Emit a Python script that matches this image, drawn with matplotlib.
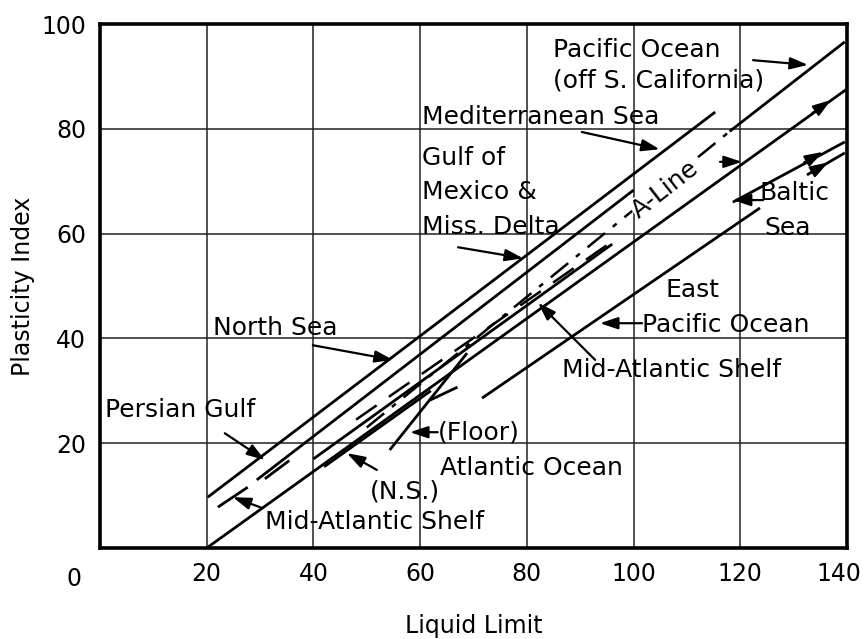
import matplotlib.pyplot as plt
import matplotlib.transforms as mtransforms
import numpy as np

plt.rcParams['font.family'] = ['DejaVu Sans']

# lines as (LL start, PI start, LL end, PI end)
solid_lines = [
    (20.2, 9.7, 115.3, 83.2),    # Mediterranean / top of bundle
    (29.4, 13.0, 100.0, 68.3),   # Gulf of Mexico
    (118.0, 79.5, 139.6, 96.6),  # Pacific Ocean (off S. California)
    (20.0, 0.0, 140.0, 87.6),    # A-line (Casagrande)
    (71.6, 28.6, 123.7, 64.9),   # East Pacific Ocean
    (118.6, 66.0, 139.6, 77.5),  # Baltic Sea 1
    (132.5, 71.2, 139.6, 75.4),  # Baltic Sea 2
    (40.0, 17.0, 96.0, 58.0),    # Mid-Atlantic Shelf
    (42.0, 15.5, 62.0, 30.0),    # Mid-Atlantic Shelf (N.S.)
    (22.1, 7.8, 27.7, 11.6),     # Mid-Atlantic Shelf (short)
    (30.9, 13.2, 35.5, 16.7),
    (54.3, 18.7, 68.8, 37.2),    # Atlantic Ocean (Floor)
    (61.8, 28.2, 67.0, 30.7),
]
dashdot_lines = [
    (50.0, 23.0, 118.0, 79.5),
]
dashed_lines = [
    (48.0, 24.5, 96.0, 58.5),
]

labels = ['Pacific Ocean', '(off S. California)', 'Mediterranean Sea', 'Gulf of',
          'Mexico &', 'Miss. Delta', 'Baltic', 'Sea', 'East', 'Pacific Ocean',
          'Mid-Atlantic Shelf', 'North Sea', 'Persian Gulf', '(Floor)',
          'Atlantic Ocean', '(N.S.)', 'Mid-Atlantic Shelf']
label_x = [84.9, 84.9, 60.3, 60.3, 60.3, 60.3, 123.7, 124.6, 105.9, 101.6,
           86.6, 21.2, 0.9, 63.3, 63.7, 50.6, 30.9]
label_y = [95.0, 89.3, 82.3, 74.4, 67.9, 61.3, 67.7, 61.1, 49.2, 42.6,
           34.0, 42.0, 26.3, 22.1, 15.3, 10.7, 5.0]

# arrows (tail LL, tail PI, head LL, head PI)
arrows = [
    (122.4, 93.1, 132.7, 92.2),
    (90.3, 79.4, 104.9, 76.1),
    (67.1, 57.4, 79.3, 55.3),
    (39.9, 38.7, 54.9, 35.9),
    (23.4, 21.9, 30.9, 16.8),
    (30.5, 7.6, 24.9, 9.7),
    (51.9, 14.9, 46.3, 18.1),
    (63.3, 22.1, 58.1, 22.1),
    (92.8, 35.9, 82.1, 46.8),
    (101.6, 42.9, 93.7, 42.9),
    (124.3, 66.4, 118.6, 66.4),
    (116.2, 73.7, 120.3, 73.7),
]
# small direction heads along lines at right edge
heads = [
    (133.5, 83.0, 137.0, 85.5),
    (132.0, 73.6, 135.5, 75.6),
    (133.5, 71.8, 136.5, 73.6),
]

xticks = [20, 40, 60, 80, 100, 120, 140]
yticks = [20, 40, 60, 80, 100]

fig = plt.figure(figsize=(8.67, 6.39), dpi=100)
ax = fig.add_axes([0.1153, 0.1424, 0.8616, 0.82])

for x0, y0, x1, y1 in solid_lines:
    ax.plot([x0, x1], [y0, y1], color='black', linewidth=2.0, solid_capstyle='butt')
for x0, y0, x1, y1 in dashdot_lines:
    ax.plot([x0, x1], [y0, y1], color='black', linewidth=1.8,
            dashes=(9, 4, 2, 4))
for x0, y0, x1, y1 in dashed_lines:
    ax.plot([x0, x1], [y0, y1], color='black', linewidth=1.8, dashes=(10, 6))

for t, x, y in zip(labels, label_x, label_y):
    ax.text(x, y, t, fontsize=18, ha='left', va='center')

ax.text(106.0, 68.5, 'A-Line', fontsize=18, ha='center', va='center',
        rotation=38, rotation_mode='anchor',
        bbox=dict(facecolor='white', edgecolor='none', pad=0.5))

for x0, y0, x1, y1 in arrows + heads:
    ax.annotate('', xy=(x1, y1), xytext=(x0, y0),
                arrowprops=dict(arrowstyle='-|>,head_length=0.6,head_width=0.2',
                                color='black', lw=1.6,
                                mutation_scale=18, shrinkA=0, shrinkB=0))

ax.set_xlim(0, 140)
ax.set_ylim(0, 100)
ax.set_xticks(xticks)
ax.set_yticks(yticks)
ax.tick_params(labelsize=17, length=0, pad=10)
ax.grid(True, color='#222222', linewidth=1.1)
ax.set_axisbelow(True)
for s in ax.spines.values():
    s.set_linewidth(2.6)

# nudge the last x tick label left so it stays inside the figure
last = ax.xaxis.get_major_ticks()[-1].label1
last.set_transform(last.get_transform() +
                   mtransforms.ScaledTranslation(-6 / 72, 0, fig.dpi_scale_trans))

ax.text(-0.035, -0.06, '0', transform=ax.transAxes, fontsize=17,
        ha='center', va='center')
ax.set_xlabel('Liquid Limit', fontsize=17, labelpad=20)
ax.set_ylabel('Plasticity Index', fontsize=17)
ax.yaxis.set_label_coords(-0.087, 0.5)

fig.savefig('out.png', dpi=100)
